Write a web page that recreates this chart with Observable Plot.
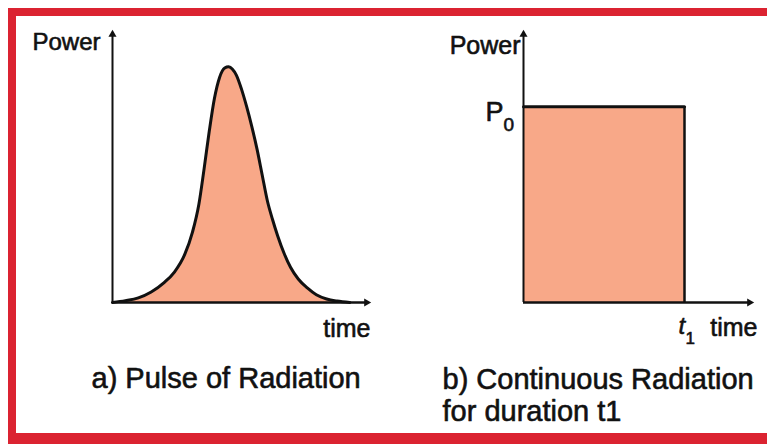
<!DOCTYPE html>
<html><head><meta charset="utf-8">
<script src="https://cdn.jsdelivr.net/npm/d3@7"></script>
<script src="https://cdn.jsdelivr.net/npm/@observablehq/plot@0.6"></script>
<style>
html,body{margin:0;padding:0;background:#fff;}
#wrap{position:relative;width:767px;height:444px;overflow:hidden;background:#fff;}
#wrap svg{position:absolute;top:0;}
.band{position:absolute;background:#db2331;}
</style></head><body>
<div id="wrap"></div>
<script>
// ---- data ----
const pulseTime  = [0.0, 0.5, 1.0, 1.5, 2.0, 2.4, 2.8, 3.1, 3.35, 3.55, 3.75, 3.95, 4.15, 4.35, 4.5, 4.65, 4.8, 5.0, 5.2, 5.4, 5.6, 5.8, 6.0, 6.2, 6.4, 6.65, 6.9, 7.2, 7.55, 7.9, 8.3, 8.7, 9.2];
const pulsePower = [0.0, 0.08, 0.2, 0.45, 0.85, 1.3, 2.05, 3.0, 4.2, 5.7, 7.3, 8.7, 9.6, 10.0, 10.05, 9.95, 9.7, 9.1, 8.35, 7.5, 6.55, 5.45, 4.35, 3.55, 2.85, 2.1, 1.5, 1.0, 0.62, 0.33, 0.15, 0.06, 0.0];
const stepTime  = [0, 7];        // 0 .. t1
const stepPower = [8.35, 8.35];  // P0
const axisMax = {time: 10, power: 11.6};
const textsA = {y: "Power", x: "time", caption: "a) Pulse of Radiation"};
const textsB = {y: "Power", level: "P", levelSub: "0", tick: "t", tickSub: "1", x: "time", caption: "b) Continuous Radiation\nfor duration t1"};

const pulse = pulseTime.map((t, i) => ({t, p: pulsePower[i]}));
const step = stepTime.map((t, i) => ({t, p: stepPower[i]}));
const tEnd = stepTime[stepTime.length - 1];
const P0 = stepPower[0];

const FILL = "#f8a888", INK = "#111";
const font = "'Liberation Sans', Arial, Helvetica, sans-serif";
const txt = {fill: INK, stroke: INK, strokeWidth: 0.6, text: d => d, lineAnchor: "bottom"};

function axes() {
  return [
    Plot.ruleX([0], {y1: 0, y2: axisMax.power - 0.1, stroke: INK, strokeWidth: 2}),
    Plot.ruleY([0], {x1: 0, x2: axisMax.time - 0.1, stroke: INK, strokeWidth: 2.5}),
    Plot.dot([0], {x: 0, y: axisMax.power, symbol: "triangle", r: 3, fill: INK, stroke: "none", dy: 4}),
    Plot.dot([0], {x: axisMax.time, y: 0, symbol: "triangle", r: 3, fill: INK, stroke: "none", rotate: 90, dx: -4})
  ];
}

const common = {
  height: 444,
  marginTop: 30, marginBottom: 142,
  x: {domain: [0, axisMax.time], axis: null},
  y: {domain: [0, axisMax.power], axis: null},
  style: {fontFamily: font, background: "transparent", color: INK}
};

const plotA = Plot.plot({
  ...common,
  width: 383, marginLeft: 112, marginRight: 13,
  marks: [
    Plot.areaY(pulse, {x: "t", y: "p", fill: FILL, curve: "monotone-x"}),
    Plot.line(pulse, {x: "t", y: "p", stroke: INK, strokeWidth: 3, curve: "monotone-x"}),
    ...axes(),
    Plot.text([textsA.y], {...txt, x: 0, y: axisMax.power, textAnchor: "end", dx: -12, dy: 19, fontSize: 24}),
    Plot.text([textsA.x], {...txt, x: axisMax.time, y: 0, textAnchor: "end", dx: 0, dy: 34, fontSize: 25}),
    Plot.text([textsA.caption], {...txt, x: 0, y: 0, textAnchor: "start", dx: -21, dy: 85, fontSize: 29})
  ]
});

const plotB = Plot.plot({
  ...common,
  width: 384, marginLeft: 140, marginRight: 14,
  marks: [
    Plot.areaY(step, {x: "t", y: "p", fill: FILL}),
    Plot.line(step, {x: "t", y: "p", stroke: INK, strokeWidth: 3}),
    Plot.ruleX([tEnd], {y1: 0, y2: P0, stroke: INK, strokeWidth: 2.5}),
    ...axes(),
    Plot.text([textsB.y], {...txt, x: 0, y: axisMax.power, textAnchor: "end", dx: -3, dy: 23, fontSize: 25}),
    Plot.text([textsB.level], {...txt, x: 0, y: P0, textAnchor: "end", dx: -20, dy: 14, fontSize: 27}),
    Plot.text([textsB.levelSub], {...txt, x: 0, y: P0, textAnchor: "start", dx: -20, dy: 24, fontSize: 19}),
    Plot.text([textsB.tick], {...txt, x: tEnd, y: 0, textAnchor: "start", dx: -6, dy: 31, fontSize: 24, fontStyle: "italic"}),
    Plot.text([textsB.tickSub], {...txt, x: tEnd, y: 0, textAnchor: "start", dx: 1, dy: 41, fontSize: 17}),
    Plot.text([textsB.x], {...txt, x: axisMax.time, y: 0, textAnchor: "end", dx: 4, dy: 33, fontSize: 25}),
    Plot.text([textsB.caption], {...txt, x: 0, y: 0, textAnchor: "start", lineHeight: 1.1, dx: -81, dy: 118, fontSize: 29})
  ]
});

const wrap = document.getElementById("wrap");
plotA.style.left = "0px";
plotB.style.left = "383px";
wrap.appendChild(plotA);
wrap.appendChild(plotB);
// red frame (top, left, bottom; no right edge)
[["8px","8px","759px","8px"],["8px","8px","8px","436px"],["8px","433px","759px","11px"]].forEach(([l,t,w,h]) => {
  const b = document.createElement("div");
  b.className = "band";
  Object.assign(b.style, {left: l, top: t, width: w, height: h});
  wrap.appendChild(b);
});
</script>
</body></html>
